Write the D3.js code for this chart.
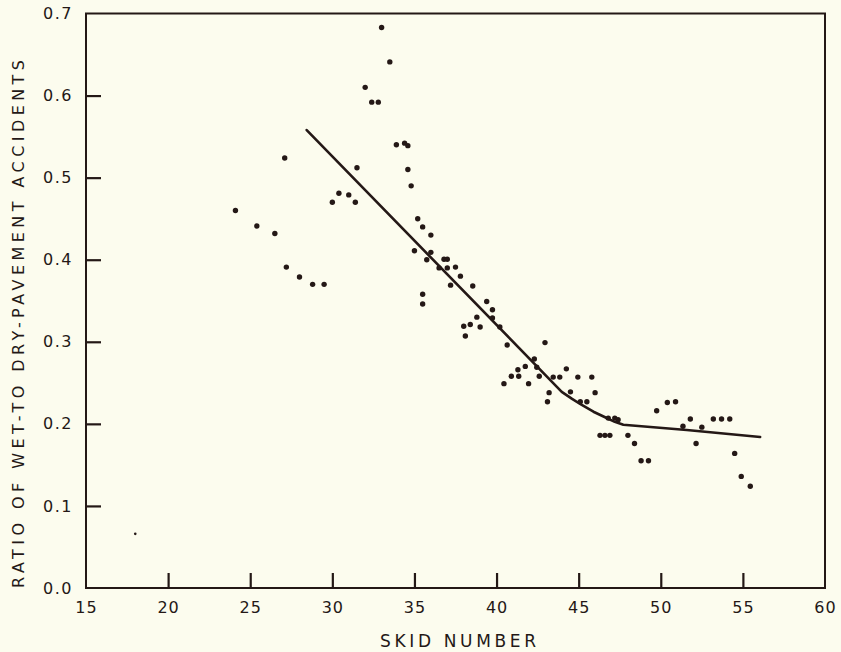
<!DOCTYPE html>
<html>
<head>
<meta charset="utf-8">
<script src="https://cdn.jsdelivr.net/npm/d3@7"></script>
<style>
  html, body { margin: 0; padding: 0; background: #fcfcee; }
  svg { display: block; }
  text { font-family: "DejaVu Sans", "Liberation Sans", sans-serif; fill: #241816; }
</style>
</head>
<body>
<svg id="chart" width="841" height="652"></svg>
<script>
// Skid number of the pavement section and observed wet-to-dry accident ratio
const skidNumber = [
  24.1, 25.4, 26.5, 27.1, 27.2, 28.0, 28.8, 29.5, 30.0, 30.4,
  31.0, 31.4, 31.5, 32.0, 32.4, 32.8, 33.0, 33.5, 33.9, 34.4,
  34.6, 34.6, 34.8, 35.2, 35.5, 36.0, 35.0, 36.0, 35.5, 35.5,
  35.75, 36.8, 37.0, 36.5, 37.0, 37.5, 37.8, 37.2, 38.55, 39.4,
  39.75, 38.8, 39.75, 38.0, 38.4, 39.0, 38.1, 40.2, 40.65, 42.95,
  42.3, 42.45, 41.75, 41.3, 40.9, 41.35, 42.6, 43.45, 43.85, 40.45,
  41.95, 43.2, 43.1, 44.25, 44.95, 45.8, 44.5, 45.1, 45.5, 46.0,
  46.8, 47.2, 47.4, 46.3, 46.6, 46.9, 48.0, 48.4, 48.8, 49.25,
  49.75, 50.4, 50.9, 51.8, 51.35, 52.15, 52.5, 53.2, 53.7, 54.2,
  54.5, 54.9, 55.45
];
const accidentRatio = [
  0.460, 0.441, 0.432, 0.524, 0.391, 0.379, 0.370, 0.370, 0.470, 0.481,
  0.479, 0.470, 0.512, 0.610, 0.592, 0.592, 0.683, 0.641, 0.540, 0.542,
  0.539, 0.510, 0.490, 0.450, 0.440, 0.430, 0.411, 0.409, 0.358, 0.346,
  0.400, 0.4005, 0.4005, 0.390, 0.390, 0.391, 0.380, 0.369, 0.368, 0.349,
  0.339, 0.330, 0.329, 0.319, 0.321, 0.318, 0.307, 0.318, 0.296, 0.299,
  0.279, 0.269, 0.270, 0.266, 0.258, 0.258, 0.258, 0.257, 0.257, 0.249,
  0.249, 0.238, 0.227, 0.267, 0.257, 0.257, 0.239, 0.227, 0.227, 0.238,
  0.207, 0.207, 0.205, 0.186, 0.186, 0.186, 0.186, 0.176, 0.155, 0.155,
  0.216, 0.226, 0.227, 0.206, 0.197, 0.176, 0.196, 0.206, 0.206, 0.206,
  0.164, 0.136, 0.124
];

// Isolated low-skid observation, plotted as a small dot
const outlierSkid = [18.0];
const outlierRatio = [0.066];

// Fitted relationship: straight decline, a short bend, then a flat tail
const fitSkid  = [28.44, 43.97, 44.6, 45.19, 45.9, 46.61, 47.2, 47.72, 51.58, 56.05];
const fitRatio = [0.558, 0.239, 0.2305, 0.223, 0.2148, 0.208, 0.2025, 0.199, 0.1925, 0.184];

// Axis ticks
const xTicks = [15, 20, 25, 30, 35, 40, 45, 50, 55, 60];
const yTicks = [0.0, 0.1, 0.2, 0.3, 0.4, 0.5, 0.6, 0.7];

const ink = "#241816";
const svg = d3.select("#chart");
const plotLeft = 86, plotRight = 825, plotTop = 13.5, plotBottom = 588;

const x = d3.scaleLinear().domain([15, 60]).range([plotLeft, plotRight]);
const y = d3.scaleLinear().domain([0, 0.7]).range([plotBottom, plotTop]);

// Frame
svg.append("rect")
  .attr("x", plotLeft).attr("y", plotTop)
  .attr("width", plotRight - plotLeft).attr("height", plotBottom - plotTop)
  .attr("fill", "none").attr("stroke", ink).attr("stroke-width", 2);

// Bottom axis: inward ticks, labels below
const xAxis = d3.axisBottom(x).tickValues(xTicks).tickSizeInner(-15).tickSizeOuter(0)
  .tickFormat(d3.format("d"));
const gx = svg.append("g").attr("transform", `translate(0,${plotBottom})`).call(xAxis);
gx.select(".domain").remove();
gx.selectAll(".tick line")
  .attr("stroke", ink).attr("stroke-width", 2.2)
  .style("display", d => (d === 15 || d === 60) ? "none" : null);
gx.selectAll(".tick text").attr("font-size", 16).attr("letter-spacing", 1)
  .attr("y", 14).attr("dy", "0.71em").style("fill", ink);

// Left axis: inward ticks, labels to the left
const yAxis = d3.axisLeft(y).tickValues(yTicks).tickSizeInner(-15).tickSizeOuter(0)
  .tickFormat(d3.format(".1f"));
const gy = svg.append("g").attr("transform", `translate(${plotLeft},0)`).call(yAxis);
gy.select(".domain").remove();
gy.selectAll(".tick line")
  .attr("stroke", ink).attr("stroke-width", 2.2)
  .style("display", d => (d === 0 || d === 0.7) ? "none" : null);
gy.selectAll(".tick text").attr("font-size", 16).attr("letter-spacing", 1.5)
  .attr("x", -13).style("fill", ink);

// Fitted curve
const fit = fitSkid.map((s, i) => [s, fitRatio[i]]);
svg.append("path")
  .datum(fit)
  .attr("fill", "none").attr("stroke", ink).attr("stroke-width", 2.6)
  .attr("stroke-linecap", "round").attr("stroke-linejoin", "round")
  .attr("d", d3.line().x(d => x(d[0])).y(d => y(d[1])));

// Observations
const obs = skidNumber.map((s, i) => [s, accidentRatio[i]]);
svg.append("g").selectAll("circle").data(obs).join("circle")
  .attr("cx", d => x(d[0])).attr("cy", d => y(d[1]))
  .attr("r", 2.7).attr("fill", ink);

svg.append("g").selectAll("circle").data(outlierSkid.map((s, i) => [s, outlierRatio[i]])).join("circle")
  .attr("cx", d => x(d[0])).attr("cy", d => y(d[1]))
  .attr("r", 1.3).attr("fill", ink);

// Axis titles
svg.append("text")
  .attr("x", 458).attr("y", 647)
  .attr("text-anchor", "middle")
  .attr("font-size", 17)
  .attr("textLength", 156).attr("lengthAdjust", "spacing")
  .text("SKID  NUMBER");

svg.append("text")
  .attr("transform", "translate(24,324) rotate(-90)")
  .attr("text-anchor", "middle")
  .attr("font-size", 16)
  .attr("textLength", 528).attr("lengthAdjust", "spacing")
  .text("RATIO OF WET-TO DRY-PAVEMENT  ACCIDENTS");
</script>
</body>
</html>
